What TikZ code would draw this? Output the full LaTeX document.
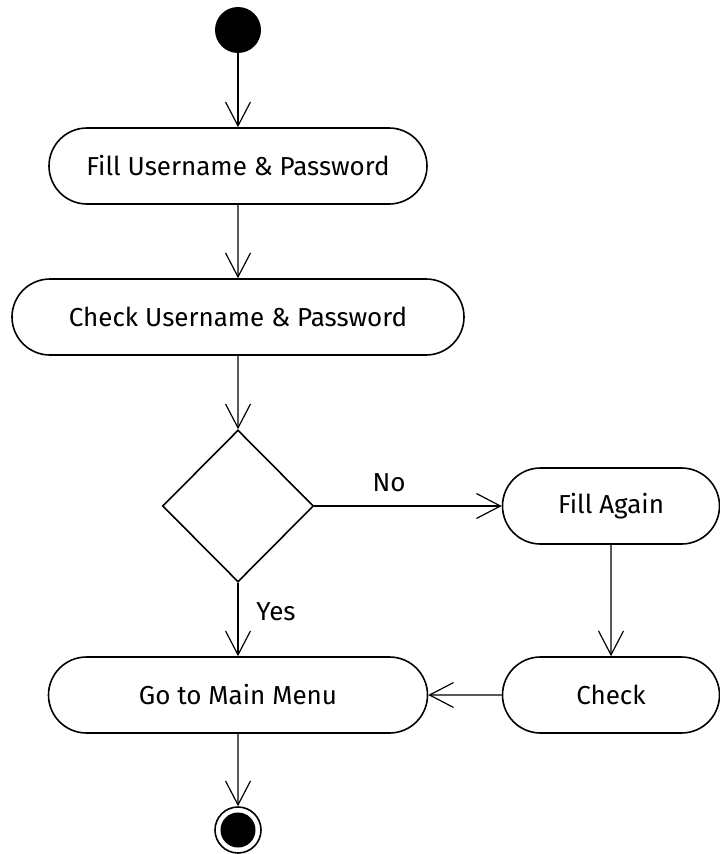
\documentclass[tikz,border=0pt]{standalone}
\usepackage{fontspec}
\setmainfont{Fira Sans}
\usetikzlibrary{arrows.meta,shapes.geometric,shapes.misc}

\begin{document}
\begin{tikzpicture}[x=1pt,y=-1pt,
  font=\fontsize{26}{31}\selectfont,
  activity/.style={draw,rounded rectangle,line width=1.6pt,minimum height=76pt,inner sep=0pt},
  decision/.style={draw,diamond,line width=1.6pt,minimum width=151pt,minimum height=152pt,inner sep=0pt},
  flow/.style={line width=1.2pt,-{Straight Barb[length=24pt,width=25pt,line width=1.2pt]}}]
\useasboundingbox (0,0) rectangle (720,854);

\node[circle,fill=black,minimum size=46pt,inner sep=0pt] (start) at (238,30) {};
\node[activity,minimum width=378pt] (fill) at (238,166) {Fill Username \& Password};
\node[activity,minimum width=452pt] (check) at (238,317) {Check Username \& Password};
\node[decision] (dec) at (238,506) {};
\node[activity,minimum width=217pt] (again) at (611,506) {Fill Again};
\node[activity,minimum width=217pt] (recheck) at (611,695) {Check};
\node[activity,minimum width=379pt] (menu) at (238,695) {Go to Main Menu};
\node[circle,draw,line width=1.6pt,minimum size=46pt,inner sep=0pt] (stop) at (238,830) {};
\node[circle,fill=black,minimum size=35pt,inner sep=0pt] at (stop) {};

\draw[flow] (start) -- (fill);
\draw[flow] (fill) -- (check);
\draw[flow] (check) -- (dec);
\draw[flow] (dec) -- (again);
\draw[flow] (again) -- (recheck);
\draw[flow] (recheck) -- (menu);
\draw[flow] (dec) -- (menu);
\draw[flow] (menu) -- (stop);

\node (no) at (389,483) {No};
\node (yes) at (276,612) {Yes};
\end{tikzpicture}
\end{document}
